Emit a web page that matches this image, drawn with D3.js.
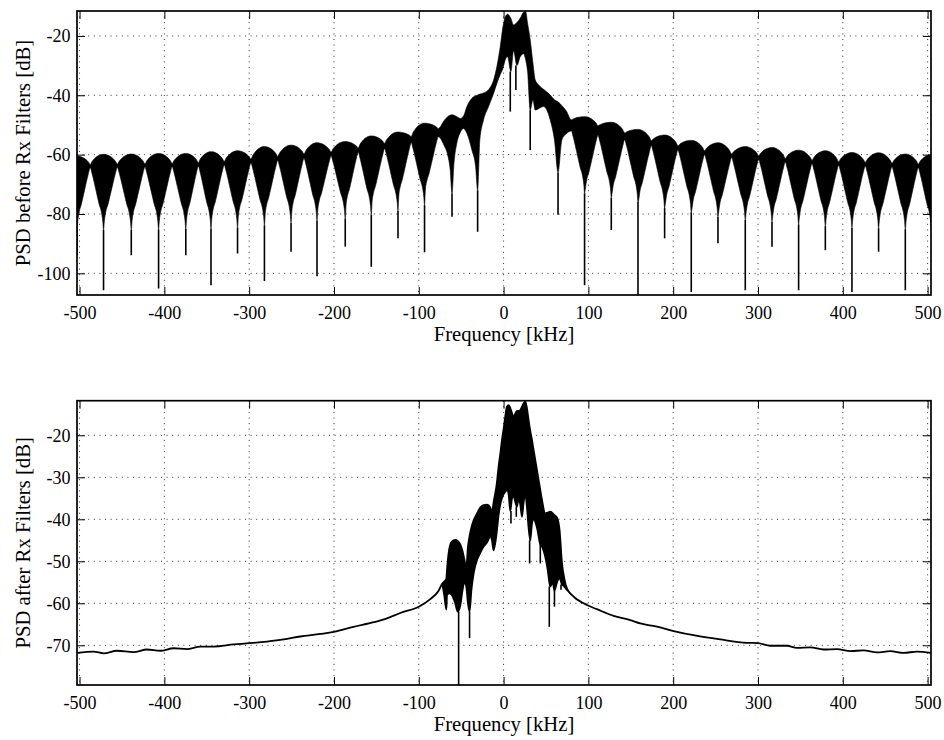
<!DOCTYPE html>
<html>
<head>
<meta charset="utf-8">
<script src="https://cdn.jsdelivr.net/npm/d3@7"></script>
<style>
  body { margin: 0; background: #fff; }
  svg { display: block; font-family: 'Liberation Serif', 'Times New Roman', serif; }
</style>
</head>
<body>
<svg id="chart" width="944" height="740"></svg>
<script>
// frequency axis (kHz)
const freqDomain = [-503, 504]
const freqTicks = [-500, -400, -300, -200, -100, 0, 100, 200, 300, 400, 500]

// top panel: PSD before Rx filters (dB)
const topYDomain = [-107.3, -11.6]
const topYTicks = [-100, -80, -60, -40, -20]

// regular side lobes, left of the main lobe: null frequency, envelope peak, null depth
const leftLobeF = [-503, -471.7, -439, -406.8, -374.7, -345, -313.7, -282, -250.6, -220, -186.7, -156, -124.5, -93.2]
const leftLobePeak = [-60.5, -59.9, -59.8, -59.6, -59.6, -59.0, -58.7, -57.3, -56.8, -56.0, -55.6, -53.7, -52.4, -49.4]
const leftLobeDepth = [-94, -105.7, -93.9, -105.1, -93.9, -104, -93.3, -102.6, -92.7, -101, -91, -97.8, -88.2, -92.9]
// crossings between those lobes (upper and lower edge of the band)
const leftCrossF = [-518.7, -487.4, -455.4, -422.9, -390.8, -359.9, -329.4, -297.9, -266.3, -235.3, -203.4, -171.4, -140.3, -108.9, -77]
const leftCrossHi = [-63.3, -63.3, -63.2, -63.1, -63.0, -62.7, -62.3, -61.5, -60.6, -59.8, -59.1, -57.7, -56.2, -53.9, -51.2]
const leftCrossLo = [-64.4, -64.4, -64.3, -64.2, -64.1, -63.9, -63.5, -62.8, -62.0, -61.2, -60.5, -59.2, -58.0, -56.0, -54.0]

// regular side lobes, right of the main lobe
const rightLobeF = [95.5, 127, 158.5, 189.9, 221.3, 252.8, 285, 316.5, 347.9, 379.4, 410.8, 442.2, 473.7, 504.4]
const rightLobePeak = [-47.2, -49.1, -51.5, -53.4, -55.2, -56.0, -57.3, -57.6, -58.5, -58.7, -59.3, -59.4, -59.8, -60.0]
const rightLobeDepth = [-104, -85.4, -110, -88.2, -106.3, -89.9, -105.7, -91, -105.7, -92.2, -106.3, -92.7, -105.7, -78.7]
const rightCrossF = [79.9, 111.3, 142.8, 174.2, 205.6, 237, 268.9, 300.8, 332.2, 363.7, 395.1, 426.5, 458, 489, 520]
const rightCrossHi = [-48.3, -50.3, -52.7, -55.3, -57.0, -58.7, -59.8, -60.4, -61.3, -61.9, -62.4, -62.6, -62.9, -63.2, -63.3]
const rightCrossLo = [-52.0, -53.5, -55.0, -57.0, -58.4, -60.0, -61.0, -61.6, -62.5, -63.1, -63.6, -63.8, -64.1, -64.4, -64.4]

// shape of one side lobe: position from crossing (1) to null (0),
// share of the peak-to-crossing drop on the upper edge, dB below crossing on the lower edge
const lobeOffsetFrac = [1, 0.86, 0.7, 0.5, 0.32, 0.16, 0.06, 0]
const domeDropFrac = [1, 0.7, 0.45, 0.22, 0.09, 0.02, 0, 0]
const funnelDropDb = [0, 2, 5, 9, 12.5, 15, 18, 21]

// main lobe region, top panel
const topMidF = [-70, -66, -63, -60.8, -58.5, -55, -51, -47.2, -43.2, -37.3, -33, -30.6, -28, -23.6, -17.7, -11.7, -7.9, -3.9, -0.8, 2.0, 4.7, 8.6, 11.8, 15.7, 19.7, 23.6, 26, 28.3, 31.4, 34.6, 37.3, 41.3, 47.2, 55, 60, 64.2, 68.8, 74]
const topMidHi = [-48.5, -47.2, -46.7, -46.6, -46.7, -47.2, -47.8, -47.0, -43.8, -41.0, -40.2, -39.9, -39.6, -39.2, -38.1, -34.8, -30.3, -23.6, -17.0, -13.6, -12.7, -14.1, -16.3, -15.5, -14.0, -12.0, -11.8, -15.7, -21.3, -29.1, -34.8, -36.5, -38.0, -39.9, -41.5, -42.2, -43.5, -45.3]
const topMidLo = [-57, -60, -65, -73, -63, -56, -52.5, -51.2, -52.9, -58.5, -64, -72, -55, -48.3, -43.8, -39.3, -36, -33, -31, -28, -27, -32, -25, -30, -27, -26, -28, -32, -45, -41.6, -45, -44.5, -43.8, -48.3, -55.1, -66, -55, -53]
const topSpikeF = [-60.8, -30.6, 7.9, 14.5, 31.4, 64.2]
const topSpikeDb = [-80.9, -86, -45.5, -38.2, -58.5, -80.3]

// bottom panel: PSD after Rx filters (dB)
const botYDomain = [-79.45, -11.76]
const botYTicks = [-70, -60, -50, -40, -30, -20]

const botLeftF = [-503, -483.4, -471.6, -455.9, -436.2, -420.5, -404.8, -389.1, -373.4, -357.6, -341.9, -318.3, -299.5, -279, -259.4, -239.7, -216.1, -200, -177, -153, -137.5, -121.8, -100, -86.4, -76.6]
const botLeftDb = [-71.8, -71.5, -71.9, -71.3, -71.6, -71.0, -71.3, -70.7, -70.9, -70.3, -70.3, -69.8, -69.5, -69.1, -68.6, -67.9, -67.3, -66.8, -65.6, -64.5, -63.6, -62.3, -60.8, -59, -57]

const botMidF = [-72.6, -70, -67.5, -66.7, -64, -61, -57, -54, -51, -48.5, -46.3, -44, -42, -40.1, -38, -35.4, -31, -27.5, -23.5, -19.6, -15.7, -13.7, -11.8, -8, -5.9, -3.9, -1.9, 0, 2, 4, 5.9, 7.9, 10, 11.8, 14, 15.8, 17.7, 19.7, 21.7, 23.6, 25.6, 27.5, 29.5, 31.5, 33.5, 35.4, 39.4, 43.3, 45.3, 49.2, 52, 55, 58, 60, 63, 66, 68.9, 71.5, 74.8]
const botMidHi = [-55.4, -54.8, -54.2, -52, -47, -45.3, -44.9, -45.2, -46, -47.5, -49.5, -51.5, -46.5, -44, -42, -40.3, -38.5, -37.2, -36.6, -36.5, -37.2, -38.5, -36, -31.5, -27.5, -24.5, -21.1, -18.5, -15.5, -13.2, -12.8, -13.5, -14.8, -15.6, -14.8, -14.2, -14.2, -14, -13.2, -12.4, -11.9, -13.5, -16.4, -19, -21.1, -23.5, -28.3, -33, -35.4, -38.6, -38.4, -38.2, -38.6, -39, -39.6, -42.5, -50.5, -54, -56.5]
const botMidLo = [-55.6, -58, -61.5, -58, -57.6, -58, -60, -62, -60.5, -57, -55, -56, -60, -62, -57, -53, -49.5, -48, -46.5, -45.5, -44.1, -45, -47.4, -43, -39, -36.5, -35, -34, -33.5, -33, -34, -38, -35, -34.5, -36, -37, -35, -36.5, -39.4, -36, -34, -37, -42, -45, -41, -40, -42, -46, -46.5, -49, -52, -56, -55, -57, -55, -54, -55.5, -56, -56.8]
const botSpikeF = [-53, -40.1, 8.7, 15, 30.7, 43.3, 53.9, 60, 67.7]
const botSpikeDb = [-80, -68.3, -41, -39.4, -50.5, -50.5, -65.6, -60.8, -56.8]

const botRightF = [82.6, 98.3, 110, 129.7, 149.3, 161.2, 176.9, 200.5, 224, 255.5, 287, 300, 314.5, 334.2, 346, 361.7, 377.4, 393.2, 408.9, 424.5, 440.3, 456, 471.7, 487.5, 504]
const botRightDb = [-58.4, -60.4, -61.4, -63, -64, -64.8, -65.4, -66.6, -67.6, -68.6, -69.4, -69.5, -70.1, -70.1, -70.6, -70.5, -71.0, -70.9, -71.4, -71.2, -71.7, -71.4, -71.8, -71.5, -71.8]

// ---------------------------------------------------------------

function lobeRows (lobeF, peak, crossF, crossHi, crossLo) {
  const rows = []
  lobeF.forEach((c, i) => {
    lobeOffsetFrac.forEach((t, k) => {
      if (i > 0 && k === 0) return
      rows.push({
        f: c - t * (c - crossF[i]),
        hi: peak[i] - (peak[i] - crossHi[i]) * domeDropFrac[k],
        lo: crossLo[i] - funnelDropDb[k]
      })
    })
    for (let k = lobeOffsetFrac.length - 2; k >= 0; k--) {
      const t = lobeOffsetFrac[k]
      rows.push({
        f: c + t * (crossF[i + 1] - c),
        hi: peak[i] - (peak[i] - crossHi[i + 1]) * domeDropFrac[k],
        lo: crossLo[i + 1] - funnelDropDb[k]
      })
    }
  })
  return rows
}

const zipRows = (fs, his, los) => fs.map((f, i) => ({ f, hi: his[i], lo: los[i] }))
const zipSpikes = (fs, dbs) => fs.map((f, i) => ({ f, db: dbs[i] }))

const topRows = [
  ...lobeRows(leftLobeF, leftLobePeak, leftCrossF, leftCrossHi, leftCrossLo),
  ...zipRows(topMidF, topMidHi, topMidLo),
  ...lobeRows(rightLobeF, rightLobePeak, rightCrossF, rightCrossHi, rightCrossLo)
]
const topSpikes = [
  ...zipSpikes(leftLobeF, leftLobeDepth),
  ...zipSpikes(topSpikeF, topSpikeDb),
  ...zipSpikes(rightLobeF, rightLobeDepth)
]

const botRows = [
  ...zipRows(botLeftF, botLeftDb, botLeftDb),
  ...zipRows(botMidF, botMidHi, botMidLo),
  ...zipRows(botRightF, botRightDb, botRightDb)
]
const botSpikes = zipSpikes(botSpikeF, botSpikeDb)

const svg = d3.select('#chart')
const plotLeft = 77
const plotRight = 931

const x = d3.scaleLinear().domain(freqDomain).range([plotLeft, plotRight])

const panels = [
  { id: 'top', top: 11, bottom: 295, yDomain: topYDomain, yTicks: topYTicks, label: 'PSD before Rx Filters [dB]', rows: topRows, spikes: topSpikes, edge: 0.6 },
  { id: 'bot', top: 400.7, bottom: 685, yDomain: botYDomain, yTicks: botYTicks, label: 'PSD after Rx Filters [dB]', rows: botRows, spikes: botSpikes, edge: 1.8 }
]

panels.forEach(p => drawPanel(p))

function drawPanel (p) {
  const y = d3.scaleLinear().domain(p.yDomain).range([p.bottom, p.top])
  const g = svg.append('g')

  g.append('clipPath')
    .attr('id', `clip-${p.id}`)
    .append('rect')
    .attr('x', plotLeft)
    .attr('y', p.top)
    .attr('width', plotRight - plotLeft)
    .attr('height', p.bottom - p.top)

  // dotted grid
  const grid = g.append('g')
    .attr('stroke', '#333')
    .attr('stroke-width', 1)
    .attr('stroke-dasharray', '1 4.6')
  grid.selectAll('line.gx')
    .data(freqTicks)
    .join('line')
    .attr('class', 'gx')
    .attr('x1', d => x(d)).attr('x2', d => x(d))
    .attr('y1', p.top).attr('y2', p.bottom)
  grid.selectAll('line.gy')
    .data(p.yTicks)
    .join('line')
    .attr('class', 'gy')
    .attr('x1', plotLeft).attr('x2', plotRight)
    .attr('y1', d => y(d)).attr('y2', d => y(d))

  const plot = g.append('g').attr('clip-path', `url(#clip-${p.id})`)

  const band = d3.area()
    .x(d => x(d.f))
    .y0(d => y(d.lo))
    .y1(d => y(d.hi))
    .curve(d3.curveMonotoneX)

  plot.append('path')
    .datum(p.rows)
    .attr('d', band)
    .attr('fill', '#000')
    .attr('stroke', '#000')
    .attr('stroke-width', p.edge)
    .attr('stroke-linejoin', 'round')

  // deep nulls drawn as thin spikes below the band
  const nearestLo = f => d3.least(p.rows, r => Math.abs(r.f - f)).lo
  plot.selectAll('line.spike')
    .data(p.spikes.filter(s => s.db < nearestLo(s.f)))
    .join('line')
    .attr('class', 'spike')
    .attr('x1', d => x(d.f)).attr('x2', d => x(d.f))
    .attr('y1', d => y(nearestLo(d.f)))
    .attr('y2', d => y(d.db))
    .attr('stroke', '#000')
    .attr('stroke-width', 1.6)

  // ticks on all four sides, pointing inward
  const fmt = d => String(d)
  g.append('g')
    .attr('transform', `translate(0,${p.bottom})`)
    .call(d3.axisBottom(x).tickValues(freqTicks).tickSize(-8).tickSizeOuter(0).tickPadding(11.5).tickFormat(fmt))
  g.append('g')
    .attr('transform', `translate(0,${p.top})`)
    .call(d3.axisTop(x).tickValues(freqTicks).tickSize(-8).tickSizeOuter(0).tickFormat(''))
  g.append('g')
    .attr('transform', `translate(${plotLeft},0)`)
    .call(d3.axisLeft(y).tickValues(p.yTicks).tickSize(-8).tickSizeOuter(0).tickPadding(6.5).tickFormat(fmt))
  g.append('g')
    .attr('transform', `translate(${plotRight},0)`)
    .call(d3.axisRight(y).tickValues(p.yTicks).tickSize(-8).tickSizeOuter(0).tickFormat(''))

  g.selectAll('.domain').remove()
  g.selectAll('.tick line').attr('stroke', '#000').attr('stroke-width', 1)
  g.selectAll('.tick text')
    .attr('fill', '#000')
    .attr('font-family', null)
    .style('font-family', "'Liberation Serif', 'Times New Roman', serif")
    .style('font-size', '18px')
  g.selectAll('g').attr('font-family', null).attr('font-size', null)

  g.append('rect')
    .attr('x', plotLeft)
    .attr('y', p.top)
    .attr('width', plotRight - plotLeft)
    .attr('height', p.bottom - p.top)
    .attr('fill', 'none')
    .attr('stroke', '#000')
    .attr('stroke-width', 1.7)

  g.append('text')
    .attr('x', (plotLeft + plotRight) / 2)
    .attr('y', p.bottom + 46)
    .attr('text-anchor', 'middle')
    .style('font-size', '20.7px')
    .text('Frequency [kHz]')

  g.append('text')
    .attr('transform', `translate(30,${(p.top + p.bottom) / 2}) rotate(-90)`)
    .attr('text-anchor', 'middle')
    .style('font-size', '20.7px')
    .text(p.label)
}
</script>
</body>
</html>
